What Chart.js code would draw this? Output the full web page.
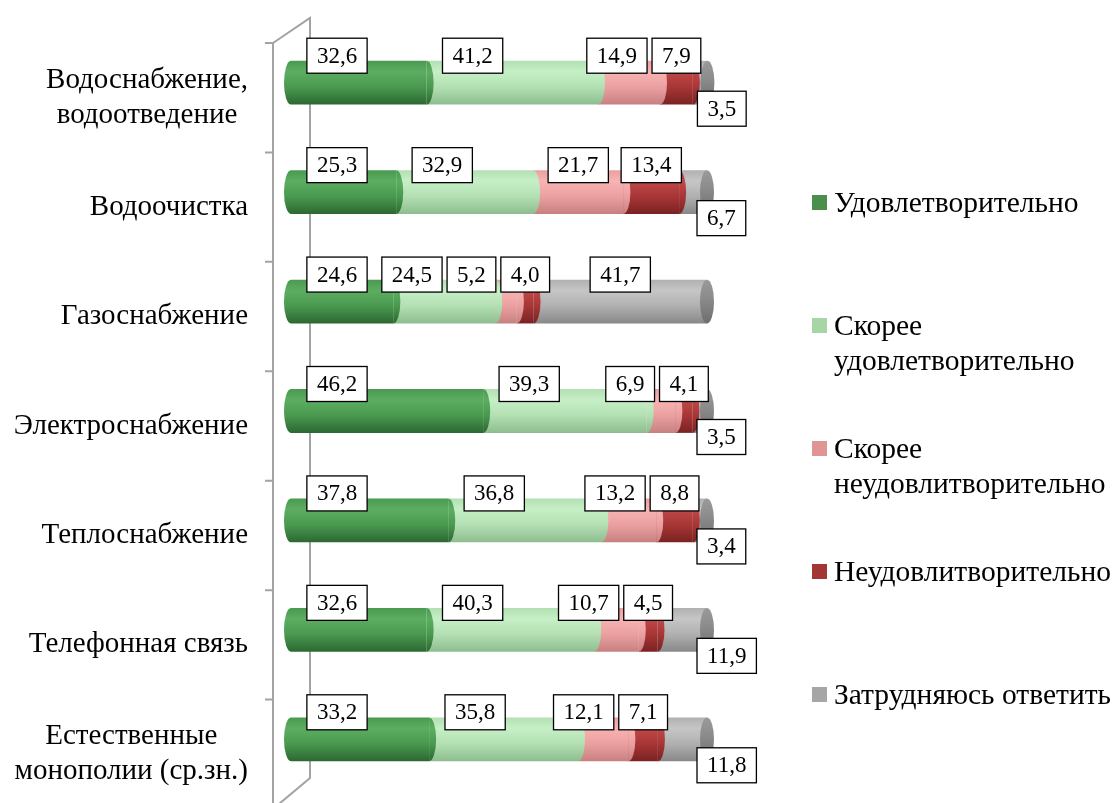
<!DOCTYPE html>
<html>
<head>
<meta charset="utf-8">
<script src="https://cdn.jsdelivr.net/npm/chart.js@4.4.1/dist/chart.umd.min.js"></script>
<style>
  body { margin: 0; background: #fff; }
  #wrap { position: relative; width: 1114px; height: 803px; }
  #legend { position: absolute; left: 812px; top: 185px; font-family: "Liberation Serif", "Times New Roman", serif; font-size: 29.5px; color: #000; }
  .item { display: flex; align-items: flex-start; height: 123px; line-height: 35px; }
  .mark { width: 15px; height: 15px; margin-top: 10px; margin-right: 7px; flex: none; }
</style>
</head>
<body>
<div id="wrap">
  <canvas id="chart"></canvas>
  <div id="legend"></div>
</div>
<script>
const categories = [['Водоснабжение,', 'водоотведение'], 'Водоочистка', 'Газоснабжение', 'Электроснабжение', 'Теплоснабжение', 'Телефонная связь', ['Естественные', 'монополии (ср.зн.)']];
const seriesNames = ['Удовлетворительно', ['Скорее', 'удовлетворительно'], ['Скорее', 'неудовлитворительно'], 'Неудовлитворительно', 'Затрудняюсь ответить'];
const satisfied = [32.6, 25.3, 24.6, 46.2, 37.8, 32.6, 33.2];
const ratherSatisfied = [41.2, 32.9, 24.5, 39.3, 36.8, 40.3, 35.8];
const ratherUnsatisfied = [14.9, 21.7, 5.2, 6.9, 13.2, 10.7, 12.1];
const unsatisfied = [7.9, 13.4, 4.0, 4.1, 8.8, 4.5, 7.1];
const hardToSay = [3.5, 6.7, 41.7, 3.5, 3.4, 11.9, 11.8];

// light / base / dark shade for each series (cylinder look)
const shades = [
    ['#5cad62', '#4a9950', '#2c6832'],
    ['#c6efc6', '#b3e0b3', '#8dbd8f'],
    ['#f8b3b3', '#eba0a0', '#c78080'],
    ['#c04848', '#a83636', '#7a2222'],
    ['#c6c6c6', '#b0b0b0', '#888888']
];
const legendColors = ['#4a8f4b', '#a6d5a6', '#e09494', '#a33535', '#a6a6a6'];
const serif = '"Liberation Serif", "Times New Roman", serif';

function cylinderFill(s) {
    return function(context) {
        const chart = context.chart;
        const y = chart.scales.y;
        if (!chart.chartArea || !y) return shades[s][1];
        const yc = y.getPixelForValue(context.dataIndex);
        const band = Math.abs(y.getPixelForValue(1) - y.getPixelForValue(0));
        const half = band * 0.2;
        const g = chart.ctx.createLinearGradient(0, yc - half, 0, yc + half);
        g.addColorStop(0, shades[s][1]);
        g.addColorStop(0.25, shades[s][0]);
        g.addColorStop(0.6, shades[s][1]);
        g.addColorStop(1, shades[s][2]);
        return g;
    };
}

function fmt(v) { return v.toFixed(1).replace('.', ','); }

const cylinderPlugin = {
    id: 'cylinder',
    beforeDatasetsDraw(chart) {
        // the 3D "wall" behind the category axis
        const ctx = chart.ctx, a = chart.chartArea, y = chart.scales.y;
        const band = Math.abs(y.getPixelForValue(1) - y.getPixelForValue(0));
        const front = a.left - 18, back = a.left + 19;
        ctx.save();
        ctx.strokeStyle = '#a3a3a3';
        ctx.lineWidth = 2;
        ctx.beginPath();
        ctx.moveTo(front, a.top + 15);
        ctx.lineTo(back, a.top - 10);
        ctx.lineTo(back, a.bottom - 16);
        ctx.lineTo(front, a.bottom + 15);
        ctx.moveTo(front, a.top + 15);
        ctx.lineTo(front, a.bottom + 15);
        for (let i = 0; i < categories.length; i++) {
            const ty = a.top + 15 + i * band;
            ctx.moveTo(front - 8, ty);
            ctx.lineTo(front, ty);
        }
        ctx.stroke();

        // category labels: block right-aligned, lines centred inside the block
        ctx.font = '29px ' + serif;
        ctx.fillStyle = '#000';
        ctx.textAlign = 'center';
        ctx.textBaseline = 'middle';
        const right = a.left - 43, lh = 35;
        categories.forEach((cat, i) => {
            const lines = Array.isArray(cat) ? cat : [cat];
            const widest = Math.max(...lines.map(l => ctx.measureText(l).width));
            const cy = y.getPixelForValue(i) + 15;
            lines.forEach((l, k) => {
                ctx.fillText(l, right - widest / 2, cy + (k - (lines.length - 1) / 2) * lh);
            });
        });
        ctx.restore();
    },
    afterDatasetsDraw(chart) {
        const ctx = chart.ctx;
        const n = chart.data.datasets.length;
        ctx.save();
        for (let d = 0; d < n; d++) {
            const meta = chart.getDatasetMeta(d);
            meta.data.forEach(bar => {
                const ry = bar.height / 2;
                if (d === 0) {
                    ctx.fillStyle = bar.options.backgroundColor;
                    ctx.beginPath();
                    ctx.ellipse(bar.base, bar.y, 7, ry, 0, Math.PI / 2, Math.PI * 1.5);
                    ctx.fill();
                }
                if (d === n - 1) {
                    const g = ctx.createLinearGradient(0, bar.y - ry, 0, bar.y + ry);
                    g.addColorStop(0, '#9a9a9a');
                    g.addColorStop(0.4, '#8c8c8c');
                    g.addColorStop(1, '#6e6e6e');
                    ctx.fillStyle = g;
                    ctx.beginPath();
                    ctx.ellipse(bar.x, bar.y, 7, ry, 0, 0, Math.PI * 2);
                    ctx.fill();
                } else {
                    ctx.fillStyle = bar.options.backgroundColor;
                    ctx.beginPath();
                    ctx.ellipse(bar.x, bar.y, 7, ry, 0, -Math.PI / 2, Math.PI / 2);
                    ctx.fill();
                }
            });
        }

        // boxed value labels
        ctx.font = '23px ' + serif;
        ctx.textAlign = 'center';
        ctx.textBaseline = 'middle';
        const boxH = 35, gap = 5;
        function box(cx, cy, w, text) {
            ctx.fillStyle = '#fff';
            ctx.fillRect(cx - w / 2, cy - boxH / 2, w, boxH);
            ctx.strokeStyle = '#000';
            ctx.lineWidth = 1.3;
            ctx.strokeRect(cx - w / 2, cy - boxH / 2, w, boxH);
            ctx.fillStyle = '#000';
            ctx.fillText(text, cx, cy + 1);
        }
        for (let i = 0; i < categories.length; i++) {
            const top = [];
            let below = null;
            for (let d = 0; d < n; d++) {
                const bar = chart.getDatasetMeta(d).data[i];
                const v = chart.data.datasets[d].data[i];
                const text = fmt(v);
                const w = ctx.measureText(text).width + 20;
                const len = bar.x - bar.base;
                if (d === n - 1 && v < 20) {
                    below = { cx: bar.x - 10 + w / 2, cy: bar.y + 26, w, text };
                } else if (d === n - 1) {
                    top.push({ cx: bar.base + len / 2, cy: bar.y - 27, w, text });
                } else {
                    top.push({ cx: bar.base + Math.min(len / 2, 46), cy: bar.y - 27, w, text });
                }
            }
            for (let k = top.length - 2; k >= 0; k--) {
                const next = top[k + 1];
                const maxRight = next.cx - next.w / 2 - gap;
                if (top[k].cx + top[k].w / 2 > maxRight) top[k].cx = maxRight - top[k].w / 2;
            }
            top.forEach(b => box(b.cx, b.cy, b.w, b.text));
            if (below) box(below.cx, below.cy, below.w, below.text);
        }
        ctx.restore();
    }
};

const seriesData = [satisfied, ratherSatisfied, ratherUnsatisfied, unsatisfied, hardToSay];

new Chart(document.getElementById('chart'), {
    type: 'bar',
    data: {
        labels: categories,
        datasets: seriesData.map((data, s) => ({
            label: Array.isArray(seriesNames[s]) ? seriesNames[s].join(' ') : seriesNames[s],
            data: data,
            backgroundColor: cylinderFill(s),
            borderWidth: 0,
            barPercentage: 0.8,
            categoryPercentage: 0.5
        }))
    },
    options: {
        indexAxis: 'y',
        responsive: true,
        maintainAspectRatio: false,
        animation: false,
        layout: { padding: { top: 28, bottom: 9, right: 407, left: 0 } },
        plugins: {
            legend: { display: false },
            tooltip: { enabled: false }
        },
        scales: {
            x: { stacked: true, min: 0, max: 100, display: false },
            y: {
                stacked: true,
                grid: { display: false, drawTicks: false },
                border: { display: false },
                ticks: { display: false },
                afterFit(scale) {
                    scale.width = 291;
                    scale.paddingTop = 0;
                    scale.paddingBottom = 0;
                }
            }
        }
    },
    plugins: [cylinderPlugin]
});

// legend
const legend = document.getElementById('legend');
seriesNames.forEach((name, s) => {
    const item = document.createElement('div');
    item.className = 'item';
    const mark = document.createElement('span');
    mark.className = 'mark';
    mark.style.background = legendColors[s];
    const text = document.createElement('span');
    text.innerHTML = (Array.isArray(name) ? name : [name]).join('<br>');
    item.appendChild(mark);
    item.appendChild(text);
    legend.appendChild(item);
});
</script>
</body>
</html>
